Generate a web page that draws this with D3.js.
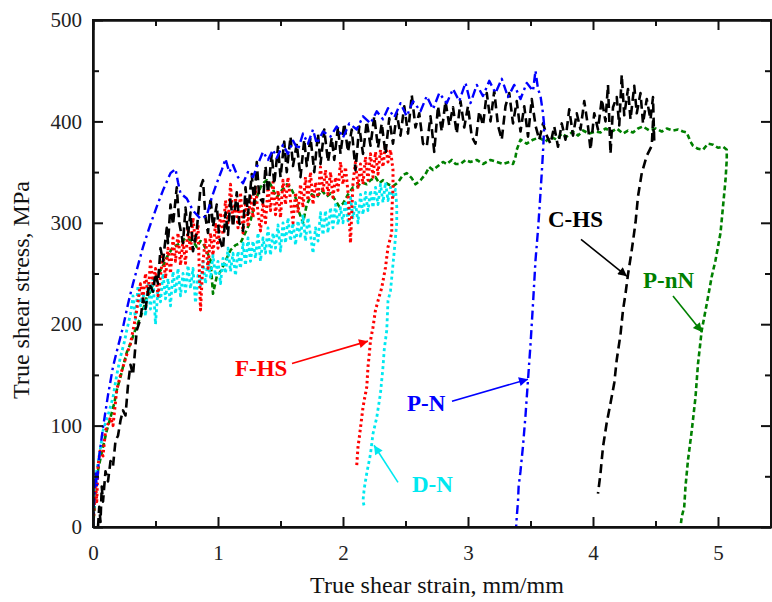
<!DOCTYPE html>
<html>
<head>
<meta charset="utf-8">
<script src="https://cdn.jsdelivr.net/npm/d3@7"></script>
<style>
  body { margin: 0; background: #fff; }
  svg { display: block; }
  .tick-label { font-family: "Liberation Serif", "Times New Roman", serif; font-size: 21px; fill: #222; }
  .axis-title { font-family: "Liberation Serif", "Times New Roman", serif; font-size: 24px; fill: #111; }
  .curve-label { font-family: "Liberation Serif", "Times New Roman", serif; font-size: 23px; font-weight: bold; }
</style>
</head>
<body>
<div id="chart"></div>
<script>
// values: [strain, stress]
const pnData = [[0,0],[0.01,30],[0.02,55],[0.03,40],[0.05,70],[0.08,98],[0.12,130],[0.16,158],[0.2,178],[0.24,197],[0.28,220],[0.32,240],[0.36,258],[0.4,276],[0.45,295],[0.51,316],[0.56,332],[0.62,349],[0.66,353],[0.68,340],[0.7,329],[0.75,324],[0.8,312],[0.86,304],[0.91,307],[0.95,325],[0.99,339],[1.03,352],[1.06,363],[1.09,350],[1.12,357],[1.16,345],[1.2,339],[1.24,350],[1.28,345],[1.32,358],[1.36,370],[1.4,362],[1.44,372],[1.47,364],[1.52,377],[1.56,368],[1.6,381],[1.64,372],[1.68,388],[1.72,378],[1.76,392],[1.79,378],[1.84,390],[1.9,385],[1.95,395],[2.0,384],[2.05,398],[2.11,392],[2.16,405],[2.22,398],[2.27,410],[2.32,402],[2.36,413],[2.41,404],[2.46,418],[2.51,405],[2.56,420],[2.62,410],[2.67,425],[2.72,412],[2.77,428],[2.83,418],[2.88,432],[2.93,420],[2.98,438],[3.02,418],[3.07,436],[3.12,425],[3.17,440],[3.22,428],[3.27,442],[3.32,424],[3.37,436],[3.42,422],[3.47,438],[3.52,430],[3.54,450],[3.56,432],[3.58,425],[3.6,408],[3.61,395],[3.6,370],[3.59,349],[3.575,320],[3.56,293],[3.54,263],[3.52,220],[3.5,180],[3.48,145],[3.46,110],[3.44,80],[3.42,55],[3.405,40],[3.4,25],[3.39,10],[3.385,0]];

const chsData = [[0.04,0],[0.05,20],[0.06,5],[0.07,40],[0.08,25],[0.1,55],[0.12,45],[0.14,65],[0.16,60],[0.18,85],[0.2,90],[0.22,105],[0.24,115],[0.26,110],[0.28,140],[0.3,160],[0.32,150],[0.35,194],[0.38,205],[0.4,225],[0.42,215],[0.45,240],[0.48,232],[0.5,250],[0.52,240],[0.54,275],[0.56,262],[0.59,295],[0.6,280],[0.62,318],[0.64,298],[0.67,335],[0.69,300],[0.72,280],[0.74,315],[0.76,288],[0.78,310],[0.8,272],[0.83,292],[0.86,335],[0.88,342],[0.9,305],[0.92,290],[0.94,325],[0.96,296],[0.99,318],[1.01,285],[1.04,274],[1.06,310],[1.08,288],[1.1,325],[1.12,296],[1.15,330],[1.17,300],[1.2,292],[1.22,335],[1.24,308],[1.27,348],[1.29,318],[1.31,360],[1.33,325],[1.36,320],[1.38,356],[1.4,330],[1.43,368],[1.45,338],[1.48,375],[1.5,345],[1.53,380],[1.55,350],[1.58,385],[1.6,356],[1.63,378],[1.66,345],[1.69,382],[1.71,356],[1.74,384],[1.77,350],[1.8,388],[1.82,358],[1.85,392],[1.88,360],[1.91,384],[1.93,362],[1.96,395],[1.98,368],[2.01,398],[2.04,370],[2.07,392],[2.1,352],[2.13,395],[2.16,368],[2.19,400],[2.22,376],[2.25,405],[2.28,374],[2.31,398],[2.34,368],[2.37,403],[2.4,378],[2.43,408],[2.46,386],[2.49,415],[2.52,388],[2.55,426],[2.58,394],[2.61,408],[2.64,378],[2.67,375],[2.7,405],[2.73,370],[2.76,415],[2.79,390],[2.82,420],[2.85,396],[2.88,414],[2.91,388],[2.94,420],[2.97,394],[3.0,415],[3.03,385],[3.06,378],[3.09,410],[3.12,396],[3.15,428],[3.18,400],[3.21,430],[3.24,396],[3.27,382],[3.3,415],[3.33,428],[3.36,398],[3.39,420],[3.42,390],[3.45,415],[3.48,385],[3.51,422],[3.54,396],[3.57,382],[3.6,398],[3.63,386],[3.66,378],[3.69,395],[3.72,375],[3.75,398],[3.78,382],[3.81,412],[3.84,386],[3.87,408],[3.9,392],[3.93,420],[3.96,395],[3.98,372],[4.01,408],[4.04,392],[4.07,422],[4.1,400],[4.12,436],[4.14,368],[4.16,414],[4.19,424],[4.21,396],[4.23,446],[4.25,406],[4.28,432],[4.3,402],[4.33,435],[4.35,408],[4.38,428],[4.4,398],[4.43,422],[4.46,402],[4.48,424],[4.49,380],[4.48,400],[4.47,376],[4.43,366],[4.39,349],[4.36,326],[4.34,300],[4.31,273],[4.28,249],[4.26,230],[4.24,214],[4.22,190],[4.19,165],[4.17,142],[4.14,122],[4.11,103],[4.08,79],[4.06,53],[4.04,33]];

const fhsData = [[0,0],[0.01,20],[0.02,45],[0.03,25],[0.04,60],[0.056,75],[0.08,70],[0.1,95],[0.14,108],[0.16,100],[0.19,135],[0.22,150],[0.24,158],[0.27,170],[0.3,181],[0.33,200],[0.35,214],[0.38,240],[0.4,225],[0.42,250],[0.44,228],[0.46,262],[0.48,240],[0.5,255],[0.52,228],[0.54,248],[0.56,270],[0.58,245],[0.6,275],[0.62,250],[0.64,285],[0.66,262],[0.68,290],[0.7,258],[0.72,282],[0.74,260],[0.76,295],[0.78,272],[0.8,305],[0.82,280],[0.84,298],[0.86,214],[0.88,262],[0.9,285],[0.92,255],[0.94,290],[0.96,268],[0.98,300],[1.0,275],[1.02,310],[1.04,288],[1.06,322],[1.08,300],[1.1,338],[1.12,300],[1.14,325],[1.16,295],[1.18,330],[1.2,290],[1.22,318],[1.24,298],[1.26,328],[1.28,305],[1.3,335],[1.32,310],[1.34,292],[1.36,320],[1.38,300],[1.4,335],[1.42,312],[1.44,340],[1.46,308],[1.48,332],[1.5,305],[1.52,342],[1.54,318],[1.56,345],[1.58,322],[1.6,300],[1.62,330],[1.64,310],[1.66,338],[1.68,315],[1.7,345],[1.72,322],[1.74,350],[1.76,318],[1.78,340],[1.8,325],[1.82,355],[1.84,330],[1.86,352],[1.88,328],[1.9,350],[1.92,325],[1.94,345],[1.96,332],[1.98,360],[2.0,338],[2.02,355],[2.04,330],[2.06,280],[2.08,340],[2.1,360],[2.12,335],[2.14,358],[2.16,338],[2.18,365],[2.2,342],[2.22,368],[2.24,345],[2.26,370],[2.28,348],[2.3,372],[2.32,355],[2.34,378],[2.36,360],[2.38,372],[2.4,352],[2.4,333],[2.39,310],[2.39,290],[2.36,276],[2.34,256],[2.31,236],[2.28,223],[2.26,214],[2.24,197],[2.22,184],[2.21,170],[2.2,158],[2.19,138],[2.17,125],[2.16,118],[2.14,98],[2.13,88],[2.12,79],[2.11,61]];

const dnData = [[0,0],[0.01,25],[0.02,45],[0.03,56],[0.05,70],[0.08,95],[0.12,110],[0.16,128],[0.19,150],[0.22,168],[0.25,182],[0.27,194],[0.3,210],[0.32,228],[0.34,205],[0.36,238],[0.38,218],[0.4,232],[0.42,208],[0.44,240],[0.46,215],[0.48,245],[0.5,200],[0.52,235],[0.54,222],[0.56,250],[0.58,225],[0.6,245],[0.62,218],[0.64,252],[0.66,230],[0.68,255],[0.7,228],[0.72,250],[0.74,232],[0.76,258],[0.78,235],[0.8,255],[0.82,221],[0.84,248],[0.86,238],[0.88,262],[0.9,240],[0.92,265],[0.94,245],[0.96,268],[0.98,248],[1.0,262],[1.02,240],[1.04,265],[1.06,250],[1.08,275],[1.1,252],[1.12,270],[1.14,248],[1.16,272],[1.18,255],[1.2,280],[1.22,258],[1.24,285],[1.26,262],[1.28,282],[1.3,265],[1.32,290],[1.34,262],[1.36,285],[1.38,270],[1.4,295],[1.42,268],[1.44,290],[1.46,275],[1.48,298],[1.5,272],[1.52,300],[1.54,280],[1.56,305],[1.58,282],[1.6,300],[1.62,278],[1.64,302],[1.66,285],[1.68,308],[1.7,282],[1.72,305],[1.74,288],[1.76,270],[1.78,295],[1.8,282],[1.82,310],[1.84,288],[1.86,312],[1.88,290],[1.9,315],[1.92,295],[1.94,318],[1.96,298],[1.98,315],[2.0,300],[2.02,322],[2.04,302],[2.06,325],[2.08,305],[2.1,320],[2.12,300],[2.14,328],[2.16,308],[2.18,330],[2.2,312],[2.22,332],[2.24,315],[2.26,335],[2.28,318],[2.3,338],[2.32,320],[2.34,340],[2.36,322],[2.38,335],[2.4,325],[2.42,333],[2.43,316],[2.43,300],[2.42,286],[2.41,272],[2.4,259],[2.38,233],[2.36,223],[2.35,194],[2.33,175],[2.32,158],[2.3,132],[2.27,108],[2.24,92],[2.22,72],[2.19,53],[2.17,38],[2.16,26],[2.17,20]];

const pnnData = [[0,0],[0.01,15],[0.02,35],[0.03,49],[0.05,62],[0.08,79],[0.11,95],[0.14,108],[0.17,122],[0.19,135],[0.22,148],[0.24,158],[0.27,172],[0.3,181],[0.34,195],[0.38,207],[0.41,218],[0.43,227],[0.46,232],[0.48,240],[0.51,248],[0.54,253],[0.57,260],[0.59,266],[0.62,272],[0.64,276],[0.67,278],[0.7,280],[0.74,285],[0.78,283],[0.81,280],[0.83,276],[0.86,282],[0.88,280],[0.91,272],[0.94,263],[0.96,230],[0.99,247],[1.02,252],[1.04,257],[1.07,265],[1.1,273],[1.14,278],[1.18,280],[1.21,288],[1.23,293],[1.26,302],[1.28,312],[1.31,325],[1.34,335],[1.37,340],[1.39,342],[1.42,338],[1.45,330],[1.47,325],[1.51,332],[1.55,338],[1.58,335],[1.62,325],[1.65,310],[1.68,300],[1.71,318],[1.75,328],[1.79,325],[1.83,332],[1.87,326],[1.9,329],[1.94,322],[1.97,316],[2.0,319],[2.04,328],[2.08,335],[2.11,335],[2.15,340],[2.19,338],[2.22,342],[2.26,345],[2.29,339],[2.32,342],[2.36,338],[2.4,336],[2.44,340],[2.48,347],[2.51,349],[2.55,344],[2.58,338],[2.62,342],[2.66,348],[2.69,355],[2.72,352],[2.76,356],[2.8,360],[2.83,358],[2.87,362],[2.9,358],[2.94,358],[2.98,362],[3.02,360],[3.07,362],[3.12,358],[3.18,362],[3.23,360],[3.28,358],[3.33,360],[3.36,358],[3.38,365],[3.39,372],[3.42,382],[3.47,378],[3.52,382],[3.57,384],[3.62,380],[3.66,385],[3.71,382],[3.75,388],[3.79,385],[3.84,390],[3.88,386],[3.92,391],[3.97,388],[4.02,390],[4.06,389],[4.1,393],[4.15,390],[4.19,393],[4.24,388],[4.28,391],[4.32,389],[4.36,393],[4.4,395],[4.45,391],[4.5,393],[4.55,390],[4.59,393],[4.64,391],[4.68,392],[4.72,390],[4.75,389],[4.78,380],[4.8,376],[4.84,373],[4.88,372],[4.92,378],[4.96,377],[5.0,374],[5.04,375],[5.07,372],[5.07,362],[5.06,342],[5.04,316],[5.02,290],[4.98,263],[4.95,247],[4.91,220],[4.87,194],[4.84,161],[4.82,128],[4.79,95],[4.76,66],[4.74,40],[4.73,20],[4.71,10],[4.7,0]];

const xTicks = [0, 1, 2, 3, 4, 5];
const yTicks = [0, 100, 200, 300, 400, 500];

// curve labels: name, label anchor, arrow tail, arrow head (data units)
const labelNames = ['F-HS', 'P-N', 'D-N', 'C-HS', 'P-nN'];
const labelAt = [[1.136, 148.7], [2.512, 114.2], [2.552, 34.2], [3.64, 295.8], [4.4, 235.6]];
const arrowFrom = [[1.592, 161.3], [2.872, 124], [2.44, 44], [3.904, 283.7], [4.64, 227.7]];
const arrowTo = [[2.2, 183.3], [3.48, 145.8], [2.248, 80.6], [4.272, 247.2], [4.872, 192.2]];
const labelColors = ['#ff0000', '#0000ff', '#00e8f0', '#000000', '#008000'];

const width = 772, height = 602;
const margin = { top: 20, right: 1, bottom: 75, left: 93 };
const innerW = width - margin.left - margin.right;
const innerH = height - margin.top - margin.bottom;

const svg = d3.select('#chart')
    .append('svg')
    .attr('width', width)
    .attr('height', height);

const g = svg.append('g')
    .attr('transform', `translate(${margin.left}, ${margin.top})`);

const xScale = d3.scaleLinear().domain([0, 5.424]).range([0, innerW]);
const yScale = d3.scaleLinear().domain([0, 500]).range([innerH, 0]);

const line = d3.line()
    .x((d) => xScale(d[0]))
    .y((d) => yScale(d[1]));

// curves, drawn back to front
const series = [
    { data: pnnData, color: '#008000', dash: '5,3', width: 2.6 },
    { data: dnData, color: '#00e8f0', dash: '3,3', width: 2.8 },
    { data: fhsData, color: '#ff0000', dash: '2.5,3', width: 3 },
    { data: chsData, color: '#000000', dash: '9,5', width: 2.6 },
    { data: pnData, color: '#0000ff', dash: '9,4,2.5,4', width: 2.4 }
];

g.append('defs').append('clipPath')
    .attr('id', 'plot-clip')
    .append('rect')
    .attr('width', innerW)
    .attr('height', innerH);

g.append('g')
    .attr('clip-path', 'url(#plot-clip)')
    .selectAll('path')
    .data(series)
    .enter()
    .append('path')
        .attr('d', (d) => line(d.data))
        .attr('fill', 'none')
        .attr('stroke', (d) => d.color)
        .attr('stroke-width', (d) => d.width)
        .attr('stroke-dasharray', (d) => d.dash)
        .attr('stroke-linejoin', 'round');

// axes: ticks point inward on all four sides
const minorX = d3.range(0.5, 5.5, 1);
const minorY = d3.range(50, 500, 100);

g.append('g')
    .attr('transform', `translate(0, ${innerH})`)
    .call(d3.axisBottom(xScale).tickValues(xTicks).tickSizeInner(-10).tickSizeOuter(0).tickPadding(18).tickFormat(d3.format('d')))
    .call((ax) => ax.selectAll('text').attr('class', 'tick-label').attr('fill', null));

g.append('g')
    .attr('transform', `translate(0, ${innerH})`)
    .call(d3.axisBottom(xScale).tickValues(minorX).tickSizeInner(-6).tickSizeOuter(0).tickFormat(''));

g.append('g')
    .call(d3.axisTop(xScale).tickValues(xTicks).tickSizeInner(-10).tickSizeOuter(0).tickFormat(''));
g.append('g')
    .call(d3.axisTop(xScale).tickValues(minorX).tickSizeInner(-6).tickSizeOuter(0).tickFormat(''));

g.append('g')
    .call(d3.axisLeft(yScale).tickValues(yTicks).tickSizeInner(-10).tickSizeOuter(0).tickPadding(11).tickFormat(d3.format('d')))
    .call((ax) => ax.selectAll('text').attr('class', 'tick-label').attr('fill', null));
g.append('g')
    .call(d3.axisLeft(yScale).tickValues(minorY).tickSizeInner(-6).tickSizeOuter(0).tickFormat(''));

g.append('g')
    .attr('transform', `translate(${innerW}, 0)`)
    .call(d3.axisRight(yScale).tickValues(yTicks).tickSizeInner(-10).tickSizeOuter(0).tickFormat(''));
g.append('g')
    .attr('transform', `translate(${innerW}, 0)`)
    .call(d3.axisRight(yScale).tickValues(minorY).tickSizeInner(-6).tickSizeOuter(0).tickFormat(''));

g.selectAll('.domain').attr('stroke', '#111').attr('stroke-width', 2);
g.selectAll('.tick line').attr('stroke', '#111').attr('stroke-width', 2);

// frame
g.append('rect')
    .attr('width', innerW)
    .attr('height', innerH)
    .attr('fill', 'none')
    .attr('stroke', '#111')
    .attr('stroke-width', 2);

// axis titles
svg.append('text')
    .attr('class', 'axis-title')
    .attr('x', 437)
    .attr('y', 593)
    .attr('text-anchor', 'middle')
    .text('True shear strain, mm/mm');

svg.append('text')
    .attr('class', 'axis-title')
    .attr('transform', 'translate(29, 290)rotate(-90)')
    .attr('text-anchor', 'middle')
    .text('True shear stress, MPa');

// arrows and labels
const defs = svg.append('defs');
labelColors.forEach((c, i) => {
    defs.append('marker')
        .attr('id', 'arrow' + i)
        .attr('viewBox', '0 0 10 10')
        .attr('refX', 10)
        .attr('refY', 5)
        .attr('markerWidth', 14)
        .attr('markerHeight', 9)
        .attr('markerUnits', 'userSpaceOnUse')
        .attr('orient', 'auto')
        .append('path')
            .attr('d', 'M0,0L10,5L0,10z')
            .attr('fill', c);
});

labelNames.forEach((name, i) => {
    g.append('line')
        .attr('x1', xScale(arrowFrom[i][0]))
        .attr('y1', yScale(arrowFrom[i][1]))
        .attr('x2', xScale(arrowTo[i][0]))
        .attr('y2', yScale(arrowTo[i][1]))
        .attr('stroke', labelColors[i])
        .attr('stroke-width', 1.6)
        .attr('marker-end', `url(#arrow${i})`);

    g.append('text')
        .attr('class', 'curve-label')
        .attr('x', xScale(labelAt[i][0]))
        .attr('y', yScale(labelAt[i][1]))
        .attr('fill', labelColors[i])
        .text(name);
});
</script>
</body>
</html>
